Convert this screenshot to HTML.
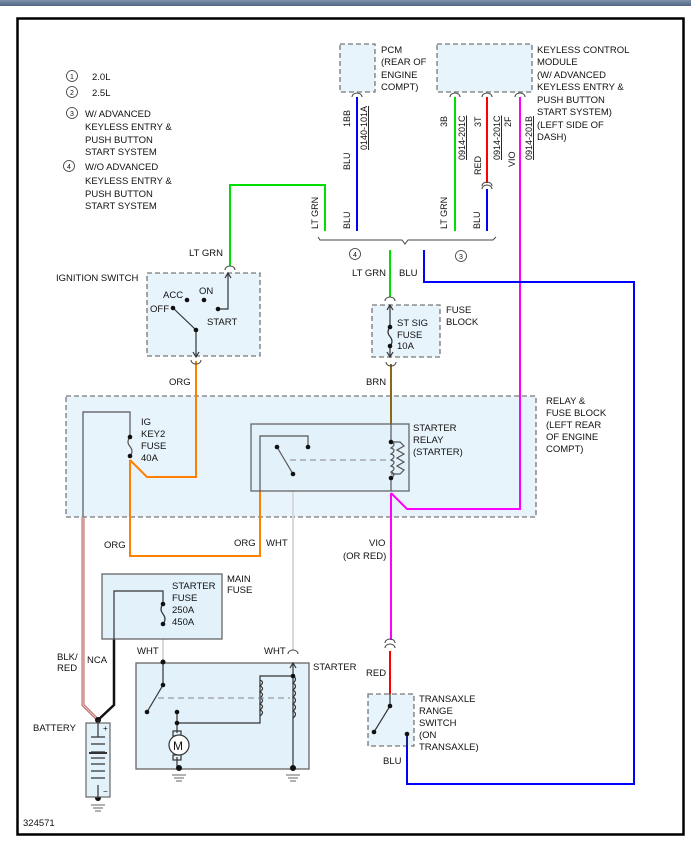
<!DOCTYPE html>
<html><head><meta charset="utf-8"><style>
html,body{margin:0;padding:0;background:#fff;}
svg{display:block;font-family:"Liberation Sans",sans-serif;font-size:9.5px;}
text{fill:#111;}
</style></head><body>
<svg width="691" height="842" viewBox="0 0 691 842" xmlns="http://www.w3.org/2000/svg">
<defs><linearGradient id="g" x1="0" y1="0" x2="0" y2="1"><stop offset="0" stop-color="#7f93ab"/><stop offset="1" stop-color="#4f6580"/></linearGradient></defs>
<rect x="0" y="0" width="691" height="6" fill="url(#g)"/>
<rect x="17.5" y="18.5" width="666" height="816" fill="#fff" stroke="#000" stroke-width="2.5"/>

<g fill="none" stroke="#333" stroke-width="0.8">
<circle cx="72" cy="76" r="5.5"/><circle cx="72" cy="92" r="5.5"/><circle cx="72" cy="113" r="5.5"/><circle cx="69" cy="166" r="5.5"/>
</g>
<g font-size="7" text-anchor="middle"><text x="72" y="79">1</text><text x="72" y="95">2</text><text x="72" y="116">3</text><text x="69" y="169">4</text></g>
<text x="92" y="80">2.0L</text><text x="92" y="96">2.5L</text>
<text x="85" y="117">W/ ADVANCED</text><text x="85" y="130">KEYLESS ENTRY &amp;</text><text x="85" y="143">PUSH BUTTON</text><text x="85" y="155">START SYSTEM</text>
<text x="85" y="170">W/O ADVANCED</text><text x="85" y="184">KEYLESS ENTRY &amp;</text><text x="85" y="197">PUSH BUTTON</text><text x="85" y="209">START SYSTEM</text>

<g fill="#e8f4fc" stroke="#777" stroke-width="1.3" stroke-dasharray="5,3">
<rect x="340" y="44" width="35" height="48"/>
<rect x="437" y="44" width="95" height="48"/>
<rect x="147" y="273" width="113" height="83"/>
<rect x="372" y="305" width="68" height="52"/>
<rect x="66" y="396" width="470" height="121"/>
<rect x="368" y="694" width="46" height="52"/>
</g>
<text x="381" y="53">PCM</text><text x="381" y="65">(REAR OF</text><text x="381" y="78">ENGINE</text><text x="381" y="90">COMPT)</text>
<text x="537" y="53">KEYLESS CONTROL</text><text x="537" y="65">MODULE</text><text x="537" y="78">(W/ ADVANCED</text><text x="537" y="90">KEYLESS ENTRY &amp;</text><text x="537" y="103">PUSH BUTTON</text><text x="537" y="115">START SYSTEM)</text><text x="537" y="128">(LEFT SIDE OF</text><text x="537" y="140">DASH)</text>

<g fill="none" stroke-width="2">
<path d="M357 97V231" stroke="#0000ff"/>
<path d="M455 97V231" stroke="#00e000"/>
<path d="M487 97V183" stroke="#ff0000"/>
<path d="M487 189V231" stroke="#0000ff"/>
<path d="M520 97V509H407L391 493" stroke="#ff00ff"/>
<path d="M325 231V185H230V266" stroke="#00e000"/>
<path d="M390 250V297" stroke="#00e000"/>
<path d="M424 250V282H634V784H407V734" stroke="#0000ff"/>
<path d="M391 364V424" stroke="#8b6914"/>
<path d="M196 361V477H147L130 460" stroke="#ff8000"/>
<path d="M130 460V556H260V491" stroke="#ff8000"/>
<path d="M391 493V640" stroke="#ff00ff"/>
<path d="M390 651V694" stroke="#ff0000"/>
<path d="M293 474V650" stroke="#d8d8d8"/>
<path d="M163 624V662" stroke="#d8d8d8"/>
<path d="M83 517V705L98 720" stroke="#b06060" stroke-width="3"/>
<path d="M83 517V705L98 720" stroke="#f2c2c2" stroke-width="1.2"/>
<path d="M114 639V705L98 720" stroke="#111" stroke-width="2.5"/>
</g>
<g fill="none" stroke="#444" stroke-width="1">
<path d="M352 97a5 4 0 0 1 10 0"/><path d="M450 97a5 4 0 0 1 10 0"/><path d="M482 97a5 4 0 0 1 10 0"/><path d="M515 97a5 4 0 0 1 10 0"/>
<path d="M482 186a5 4 0 0 1 10 0"/><path d="M482 189a5 4 0 0 1 10 0"/>
<path d="M225 270a5 4 0 0 1 10 0"/>
<path d="M191 360a5 4 0 0 0 10 0"/>
<path d="M385 301a5 4 0 0 1 10 0"/><path d="M386 362a5 4 0 0 0 10 0"/>
<path d="M385 643a5 4 0 0 1 10 0"/><path d="M385 648a5 4 0 0 1 10 0"/>
<path d="M288 654a5 4 0 0 1 10 0"/>
<path d="M318 237l2 3h82l3 4l3-4h85l3-3"/>
</g>
<g font-size="9">
<text transform="translate(350,127) rotate(-90)">1BB</text>
<text transform="translate(350,170) rotate(-90)">BLU</text>
<text transform="translate(367,150) rotate(-90)" text-decoration="underline">0140-101A</text>
<text transform="translate(350,229) rotate(-90)">BLU</text>
<text transform="translate(318,229) rotate(-90)">LT GRN</text>
<text transform="translate(447,127) rotate(-90)">3B</text>
<text transform="translate(465,160) rotate(-90)" text-decoration="underline">0914-201C</text>
<text transform="translate(481,127) rotate(-90)">3T</text>
<text transform="translate(481,175) rotate(-90)">RED</text>
<text transform="translate(500,160) rotate(-90)" text-decoration="underline">0914-201C</text>
<text transform="translate(511,127) rotate(-90)">2F</text>
<text transform="translate(515,167) rotate(-90)">VIO</text>
<text transform="translate(532,160) rotate(-90)" text-decoration="underline">0914-201B</text>
<text transform="translate(447,229) rotate(-90)">LT GRN</text>
<text transform="translate(480,229) rotate(-90)">BLU</text>
</g>
<g fill="none" stroke="#333" stroke-width="0.8"><circle cx="355" cy="254" r="5.5"/><circle cx="461" cy="256" r="5.5"/><circle cx="211" cy="607" r="5.5"/><circle cx="211" cy="623" r="5.5"/></g>
<g font-size="7" text-anchor="middle"><text x="355" y="257">4</text><text x="461" y="259">3</text><text x="211" y="610">1</text><text x="211" y="626">2</text></g>
<text x="352" y="276">LT GRN</text><text x="399" y="276">BLU</text>
<text x="189" y="256">LT GRN</text>
<text x="56" y="281">IGNITION SWITCH</text>
<text x="163" y="298">ACC</text><text x="199" y="294">ON</text><text x="150" y="312">OFF</text><text x="207" y="325">START</text>
<text x="446" y="313">FUSE</text><text x="446" y="325">BLOCK</text>
<text x="397" y="326">ST SIG</text><text x="397" y="338">FUSE</text><text x="397" y="349">10A</text>
<text x="169" y="385">ORG</text><text x="366" y="385">BRN</text>

<g stroke="#333" stroke-width="1.2" fill="none">
<path d="M173 308L196 330V357"/><path d="M218 309H228V273"/>
<path d="M193 352l3 5l3-5M225 278l3-5l3 5"/>
<path d="M390 305V327M390 346V357M390 327q-4 5 0 9.5q4 5 0 9.5"/>
<path d="M387 310l3-5l3 5M387 352l3 5l3-5"/>
</g>
<g fill="#111"><circle cx="187" cy="300" r="2.3"/><circle cx="204" cy="300" r="2.3"/><circle cx="218" cy="309" r="2.3"/><circle cx="173" cy="308" r="2.3"/><circle cx="196" cy="330" r="2.3"/><circle cx="390" cy="327" r="2.3"/><circle cx="390" cy="346" r="2.3"/></g>

<text x="546" y="404">RELAY &amp;</text><text x="546" y="416">FUSE BLOCK</text><text x="546" y="428">(LEFT REAR</text><text x="546" y="440">OF ENGINE</text><text x="546" y="452">COMPT)</text>
<rect x="251" y="424" width="158" height="67" fill="#e2f1fa" stroke="#666" stroke-width="1.3"/>
<text x="413" y="431">STARTER</text><text x="413" y="443">RELAY</text><text x="413" y="455">(STARTER)</text>
<text x="141" y="425">IG</text><text x="141" y="437">KEY2</text><text x="141" y="449">FUSE</text><text x="141" y="461">40A</text>
<g stroke="#555" stroke-width="1.2" fill="none">
<path d="M83 517V412H130V437"/><path d="M130 437q-4 5 0 9.5q4 5 0 9.5"/>
<path d="M260 491V436H308V447"/><path d="M277 447L293 474"/>
<path d="M391 424V442M391 478V491"/>
<path d="M391 442q6 2 0 6q6 2 0 6q6 2 0 6q6 2 0 6q6 2 0 6q6 2 0 6"/>
<path d="M391 442H400l4 4l-7 4l7 4l-7 4l7 4l-7 4l7 4l-4 4H391"/>
</g>
<path d="M290 460H386" stroke="#888" stroke-dasharray="6,4" stroke-width="1"/>
<g fill="#111"><circle cx="130" cy="437" r="2.3"/><circle cx="130" cy="456" r="2.3"/><circle cx="308" cy="447" r="2.3"/><circle cx="277" cy="447" r="2.3"/><circle cx="293" cy="474" r="2.3"/><circle cx="391" cy="442" r="2.3"/><circle cx="391" cy="478" r="2.3"/></g>
<text x="104" y="548">ORG</text><text x="234" y="546">ORG</text><text x="266" y="546">WHT</text>
<text x="369" y="546">VIO</text><text x="343" y="559">(OR RED)</text>

<rect x="102" y="574" width="120" height="65" fill="#e2f1fa" stroke="#666" stroke-width="1.3"/>
<text x="227" y="582">MAIN</text><text x="227" y="593">FUSE</text>
<text x="172" y="589">STARTER</text><text x="172" y="601">FUSE</text><text x="172" y="613">250A</text><text x="172" y="625">450A</text>
<g stroke="#333" stroke-width="1.2" fill="none"><path d="M114 639V591H163V604"/><path d="M163 604q-4 5 0 10q4 5 0 10"/></g>
<g fill="#111"><circle cx="163" cy="604" r="2.3"/><circle cx="163" cy="624" r="2.3"/></g>
<text x="57" y="660">BLK/</text><text x="57" y="671">RED</text><text x="87" y="663">NCA</text>
<text x="137" y="654">WHT</text><text x="264" y="654">WHT</text>

<rect x="136" y="663" width="173" height="106" fill="#e2f1fa" stroke="#666" stroke-width="1.3"/>
<text x="313" y="670">STARTER</text>
<g stroke="#333" stroke-width="1.2" fill="none">
<path d="M163 662V685L147 712"/>
<path d="M177 712V723H260V676H293V663"/><path d="M290 668l3-5l3 5"/>
<path d="M293 676V768"/>
<path d="M260 680q5 2 0 6q5 2 0 6q5 2 0 6q5 2 0 6q5 2 0 6q5 2 0 6"/>
<path d="M293 676q5 3 0 7q5 3 0 7q5 3 0 7q5 3 0 7q5 3 0 7q5 3 0 7"/>
<path d="M177 723V733M177 757V768"/>
<rect x="173" y="731" width="8" height="5"/><rect x="173" y="755" width="8" height="5"/>
<circle cx="179" cy="745" r="10" fill="#fff"/>
</g>
<path d="M158 698H290" stroke="#888" stroke-dasharray="6,4" stroke-width="1"/>
<text x="173" y="750" font-size="12">M</text>
<g fill="#111"><circle cx="163" cy="662" r="2.5"/><circle cx="163" cy="685" r="2.3"/><circle cx="147" cy="712" r="2.3"/><circle cx="177" cy="712" r="2.3"/><circle cx="177" cy="723" r="2.3"/><circle cx="293" cy="676" r="2.3"/><circle cx="179" cy="768" r="3"/><circle cx="293" cy="768" r="3"/><circle cx="98" cy="720" r="3"/><circle cx="98" cy="798" r="3"/></g>
<g stroke="#666" stroke-width="1"><path d="M172 775h14M174 778h10M176 781h6M286 775h14M288 778h10M290 781h6M91 805h14M93 808h10M95 811h6"/></g>

<text x="33" y="731">BATTERY</text>
<rect x="86" y="723" width="24" height="74" fill="#e2f1fa" stroke="#666" stroke-width="1.2"/>
<g stroke="#333" stroke-width="1.2"><path d="M98 720V737M98 785V798M91 737h14M91 744h14M91 752h14M91 758h14M91 764h14M91 771h14M91 778h14"/><path d="M89 753h18" stroke-width="2"/></g>
<text x="103" y="731" font-size="8">+</text><text x="103" y="794" font-size="8">−</text>

<text x="419" y="702">TRANSAXLE</text><text x="419" y="714">RANGE</text><text x="419" y="726">SWITCH</text><text x="419" y="738">(ON</text><text x="419" y="750">TRANSAXLE)</text>
<text x="383" y="764">BLU</text>
<g stroke="#333" stroke-width="1.2" fill="none"><path d="M390 694V706L374 732"/><path d="M407 734V746"/></g>
<g fill="#111"><circle cx="390" cy="706" r="2.3"/><circle cx="374" cy="732" r="2.3"/><circle cx="407" cy="734" r="2.3"/></g>
<text x="366" y="676">RED</text>
<text x="23" y="826">324571</text>
</svg>
</body></html>
